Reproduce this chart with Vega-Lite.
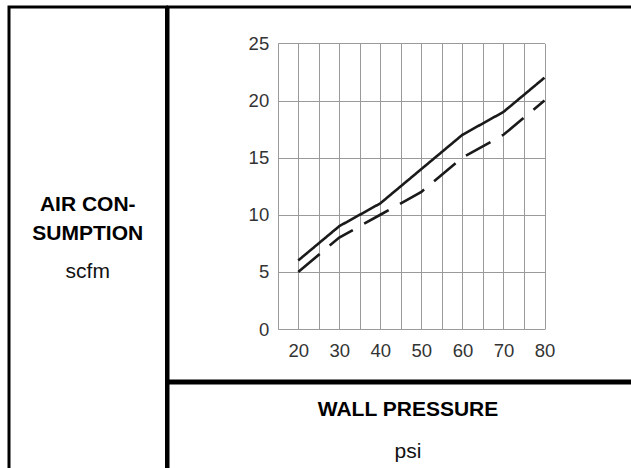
{
  "$schema": "https://vega.github.io/schema/vega-lite/v6.json",
  "background": "white",
  "padding": {"left": 7, "top": 5, "right": 0, "bottom": 0},
  "spacing": -3,
  "config": {
    "font": "Liberation Sans",
    "view": {"stroke": "#000000", "strokeWidth": 3},
    "concat": {"spacing": -3}
  },
  "hconcat": [
    {
      "width": 157.5,
      "height": 480,
      "view": {"stroke": "#000000", "strokeWidth": 3, "fill": "white"},
      "data": {"values": [{"l1": "AIR CON-", "l2": "SUMPTION", "unit": "scfm"}]},
      "layer": [
        {"mark": {"type": "text", "fontWeight": "bold", "fontSize": 21, "color": "#000000", "dy": -42}, "encoding": {"text": {"field": "l1"}}},
        {"mark": {"type": "text", "fontWeight": "bold", "fontSize": 21, "color": "#000000", "dy": -13}, "encoding": {"text": {"field": "l2"}}},
        {"mark": {"type": "text", "fontSize": 21, "color": "#111111", "dy": 25}, "encoding": {"text": {"field": "unit"}}}
      ]
    },
    {
      "spacing": -3,
      "vconcat": [
        {
          "width": 480,
          "height": 374,
          "view": {"stroke": "#000000", "strokeWidth": 3, "fill": "white"},
          "data": {"values": [
            {"psi": 20, "scfm": 6, "curve": "upper"},
            {"psi": 30, "scfm": 9, "curve": "upper"},
            {"psi": 40, "scfm": 11, "curve": "upper"},
            {"psi": 50, "scfm": 14, "curve": "upper"},
            {"psi": 60, "scfm": 17, "curve": "upper"},
            {"psi": 70, "scfm": 19, "curve": "upper"},
            {"psi": 80, "scfm": 22, "curve": "upper"},
            {"psi": 20, "scfm": 5, "curve": "lower"},
            {"psi": 30, "scfm": 8, "curve": "lower"},
            {"psi": 40, "scfm": 10, "curve": "lower"},
            {"psi": 50, "scfm": 12, "curve": "lower"},
            {"psi": 60, "scfm": 15, "curve": "lower"},
            {"psi": 70, "scfm": 17, "curve": "lower"},
            {"psi": 80, "scfm": 20, "curve": "lower"}
          ]},
          "mark": {"type": "line", "color": "#1a1a1a", "strokeWidth": 2.6},
          "encoding": {
            "x": {
              "field": "psi", "type": "quantitative",
              "scale": {"domain": [15, 80], "range": [109.7, 376.5], "nice": false, "zero": false},
              "axis": {
                "orient": "top", "offset": -322, "title": null,
                "values": [15, 20, 25, 30, 35, 40, 45, 50, 55, 60, 65, 70, 75, 80],
                "labelExpr": "datum.value % 10 == 0 ? datum.label : ''",
                "domain": false, "ticks": false, "tickSize": 0,
                "grid": true, "gridColor": "#9a9a9a", "gridWidth": 1,
                "labelFontSize": 18.5, "labelColor": "#333333", "labelBaseline": "top",
                "labelPadding": -12, "labelOverlap": false, "labelFlush": false
              }
            },
            "y": {
              "field": "scfm", "type": "quantitative",
              "scale": {"domain": [0, 25], "range": [322, 36.4], "nice": false, "zero": false},
              "axis": {
                "orient": "left", "offset": -109.7, "title": null,
                "values": [0, 5, 10, 15, 20, 25],
                "domain": false, "ticks": false, "tickSize": 0,
                "grid": true, "gridColor": "#9a9a9a", "gridWidth": 1,
                "labelFontSize": 18.5, "labelColor": "#333333",
                "labelPadding": 9, "labelOverlap": false, "labelFlush": false
              }
            },
            "strokeDash": {
              "field": "curve", "type": "nominal",
              "scale": {"domain": ["upper", "lower"], "range": [[1, 0], [28, 13]]},
              "legend": null
            }
          }
        },
        {
          "width": 480,
          "height": 106,
          "view": {"stroke": "#000000", "strokeWidth": 3, "fill": "white"},
          "data": {"values": [{"title": "WALL PRESSURE", "unit": "psi"}]},
          "layer": [
            {"mark": {"type": "text", "fontWeight": "bold", "fontSize": 21, "color": "#000000", "dy": -26}, "encoding": {"text": {"field": "title"}}},
            {"mark": {"type": "text", "fontSize": 21, "color": "#111111", "dy": 16}, "encoding": {"text": {"field": "unit"}}}
          ]
        }
      ]
    }
  ]
}
